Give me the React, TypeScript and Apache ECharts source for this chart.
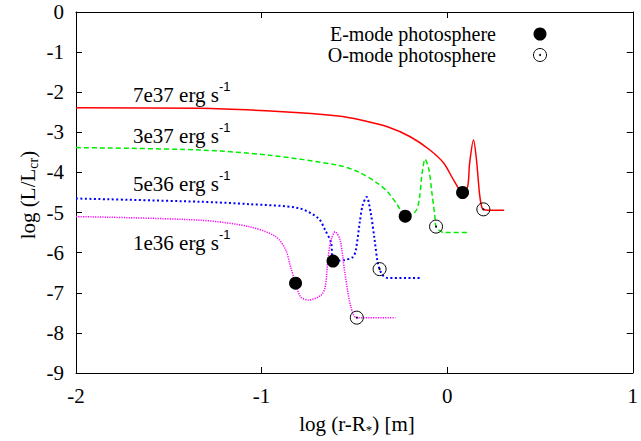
import React, { useEffect, useRef } from 'react';
import * as echarts from 'echarts';

// 7e37 erg/s (red, solid)
const redX = [-2.0, -1.334, -0.908, -0.588, -0.465, -0.322, -0.199, -0.093, -0.018, 0.035, 0.083, 0.110, 0.121, 0.142, 0.158, 0.174, 0.185, 0.195, 0.222, 0.307];
const redY = [-2.39, -2.40, -2.48, -2.59, -2.69, -2.86, -3.11, -3.44, -3.77, -4.19, -4.50, -4.36, -3.77, -3.19, -3.69, -4.52, -4.84, -4.92, -4.94, -4.94];

// 3e37 erg/s (green, dashed)
const greenX = [-2.0, -1.334, -0.961, -0.588, -0.481, -0.375, -0.322, -0.268, -0.226, -0.172, -0.151, -0.135, -0.119, -0.098, -0.082, -0.066, -0.060, -0.018, 0.115];
const greenY = [-3.38, -3.44, -3.57, -3.82, -3.98, -4.27, -4.48, -4.81, -5.09, -4.98, -4.69, -4.02, -3.67, -3.94, -4.52, -5.10, -5.35, -5.50, -5.50];

// 5e36 erg/s (blue, dotted)
const blueX = [-2.0, -1.334, -1.068, -0.801, -0.695, -0.657, -0.625, -0.615, -0.551, -0.508, -0.492, -0.471, -0.455, -0.434, -0.412, -0.391, -0.375, -0.364, -0.348, -0.322, -0.135];
const blueY = [-4.65, -4.73, -4.79, -4.89, -5.14, -5.44, -5.76, -6.21, -6.18, -6.11, -5.93, -5.24, -4.81, -4.61, -5.01, -5.68, -6.23, -6.41, -6.56, -6.63, -6.63];

// 1e36 erg/s (magenta, fine dotted)
const magX = [-2.0, -1.334, -1.068, -0.924, -0.870, -0.844, -0.817, -0.790, -0.748, -0.679, -0.657, -0.641, -0.625, -0.604, -0.577, -0.551, -0.519, -0.487, -0.279];
const magY = [-5.10, -5.19, -5.35, -5.60, -5.93, -6.35, -6.76, -7.10, -7.18, -7.06, -6.85, -6.10, -5.68, -5.48, -5.68, -6.51, -7.35, -7.62, -7.62];

// photospheres
const eModeX = [0.083, -0.226, -0.615, -0.817];
const eModeY = [-4.50, -5.09, -6.21, -6.76];
const oModeX = [0.195, -0.060, -0.364, -0.487];
const oModeY = [-4.92, -5.35, -6.41, -7.62];

const seriesNames = ['7e37', '3e37', '5e36', '1e36'];
const legendNames = ['E-mode photosphere', 'O-mode photosphere'];
const xTicks = { min: -2, max: 1, interval: 1 };
const yTicks = { min: -9, max: 0, interval: 1 };

const SERIF = 'Liberation Serif';
const SANS = 'Liberation Sans';
const FS = 21;
const LEG_FS = 20;

const zip = (xs: number[], ys: number[]) => xs.map((x, i) => [x, ys[i]]);

export default function App() {
  const ref = useRef<HTMLDivElement>(null);
  useEffect(() => {
    if (!ref.current) return;
    const chart = echarts.init(ref.current, undefined, { renderer: 'svg' });

    const axisCommon = {
      type: 'value' as const,
      axisLine: { show: true, onZero: false, lineStyle: { color: '#000', width: 1 } },
      axisTick: { show: true, inside: true, length: 6, lineStyle: { color: '#000', width: 1 } },
      splitLine: { show: false },
    };
    const labelStyle = { fontFamily: SERIF, fontSize: FS, color: '#000' };

    const lineRich = {
      m: { fontFamily: SERIF, fontSize: FS, font: `${FS}px ${SERIF}`, lineHeight: 30, fill: '#000' },
      sup: { fontFamily: SANS, fontSize: 13, font: `13px ${SANS}`, lineHeight: 13, verticalAlign: 'top', fill: '#000' },
    };
    const mkLabel = (txt: string, x: number, y: number) => ({
      type: 'text',
      x,
      y,
      style: {
        text: `{m|${txt} erg s}{sup|-1}`,
        rich: lineRich,
        font: `${FS}px ${SERIF}`,
        align: 'left',
        verticalAlign: 'middle',
      },
    });

    const option: any = {
      animation: false,
      grid: { left: 76, right: 3, top: 12, bottom: 68, containLabel: false },
      xAxis: [
        {
          ...axisCommon,
          ...xTicks,
          position: 'bottom',
          axisLabel: { ...labelStyle, margin: 12 },
        },
        {
          ...axisCommon,
          ...xTicks,
          position: 'top',
          axisLabel: { show: false },
        },
      ],
      yAxis: [
        {
          ...axisCommon,
          ...yTicks,
          position: 'left',
          axisLabel: { ...labelStyle, margin: 12 },
        },
        {
          ...axisCommon,
          ...yTicks,
          position: 'right',
          axisLabel: { show: false },
        },
      ],
      series: [
        {
          name: seriesNames[0], type: 'line', data: zip(redX, redY), showSymbol: false, symbol: 'none', smooth: 0.3,
          lineStyle: { color: '#ff0000', width: 1.5, type: 'solid' },
        },
        {
          name: seriesNames[1], type: 'line', data: zip(greenX, greenY), showSymbol: false, symbol: 'none', smooth: 0.3,
          lineStyle: { color: '#00ee00', width: 1.5, type: [5, 3] },
        },
        {
          name: seriesNames[2], type: 'line', data: zip(blueX, blueY), showSymbol: false, symbol: 'none', smooth: 0.3,
          lineStyle: { color: '#0000ff', width: 2, type: [2, 2.5] },
        },
        {
          name: seriesNames[3], type: 'line', data: zip(magX, magY), showSymbol: false, symbol: 'none', smooth: 0.3,
          lineStyle: { color: '#ff00ff', width: 1.5, type: [1.2, 1.2] },
        },
        {
          name: legendNames[0], type: 'scatter', data: zip(eModeX, eModeY), symbol: 'circle', symbolSize: 13, z: 5,
          itemStyle: { color: '#000', opacity: 1 },
        },
        {
          name: legendNames[1], type: 'scatter', data: zip(oModeX, oModeY), symbol: 'circle', symbolSize: 13, z: 5,
          itemStyle: { color: 'rgba(0,0,0,0)', borderColor: '#000', borderWidth: 1, opacity: 1 },
        },
        {
          name: legendNames[1] + ' centre', type: 'scatter', data: zip(oModeX, oModeY), symbol: 'circle', symbolSize: 2, z: 6,
          itemStyle: { color: '#000', opacity: 1 },
        },
      ],
      graphic: [
        mkLabel(seriesNames[0], 133, 95),
        mkLabel(seriesNames[1], 133, 136),
        mkLabel(seriesNames[2], 133, 184),
        mkLabel(seriesNames[3], 133, 243),
        {
          type: 'text', x: 496, y: 34,
          style: { text: legendNames[0], font: `${LEG_FS}px ${SERIF}`, fill: '#000', align: 'right', verticalAlign: 'middle' },
        },
        {
          type: 'text', x: 496, y: 55,
          style: { text: legendNames[1], font: `${LEG_FS}px ${SERIF}`, fill: '#000', align: 'right', verticalAlign: 'middle' },
        },
        { type: 'circle', shape: { cx: 540, cy: 34, r: 6.5 }, style: { fill: '#000' } },
        { type: 'circle', shape: { cx: 540, cy: 55, r: 6.5 }, style: { fill: 'none', stroke: '#000', lineWidth: 1 } },
        { type: 'circle', shape: { cx: 540, cy: 55, r: 1 }, style: { fill: '#000' } },
        {
          type: 'text', x: 357, y: 424,
          style: {
            text: '{m|log (r-R}{s|*}{m|) [m]}',
            font: `${FS}px ${SERIF}`,
            rich: {
              m: { fontFamily: SERIF, fontSize: FS, font: `${FS}px ${SERIF}`, lineHeight: 24, fill: '#000' },
              s: { fontFamily: SERIF, fontSize: 13, font: `13px ${SERIF}`, lineHeight: 13, verticalAlign: 'bottom', fill: '#000' },
            },
            align: 'center', verticalAlign: 'middle',
          },
        },
        {
          type: 'text', x: 28, y: 195, rotation: Math.PI / 2,
          style: {
            text: '{m|log (L/L}{s|cr}{m|)}',
            font: `${FS}px ${SERIF}`,
            rich: {
              m: { fontFamily: SERIF, fontSize: FS, font: `${FS}px ${SERIF}`, lineHeight: 24, fill: '#000' },
              s: { fontFamily: SERIF, fontSize: 14, font: `14px ${SERIF}`, lineHeight: 14, verticalAlign: 'bottom', fill: '#000' },
            },
            align: 'center', verticalAlign: 'middle',
          },
        },
      ],
    };
    chart.setOption(option);
    return () => chart.dispose();
  }, []);
  return <div ref={ref} style={{ position: 'absolute', left: 0, top: 0, width: 641, height: 441 }} />;
}
